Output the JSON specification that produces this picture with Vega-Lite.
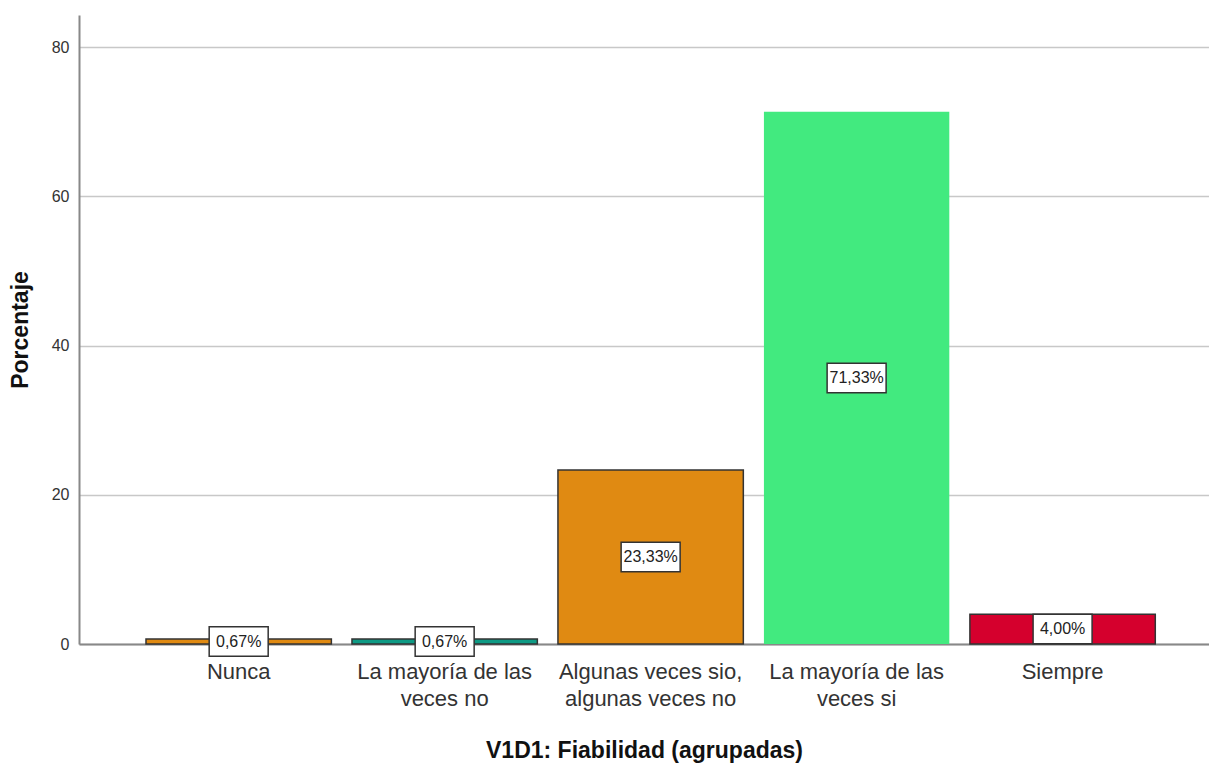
{
  "$schema": "https://vega.github.io/schema/vega-lite/v6.json",
  "width": 1130,
  "height": 629,
  "autosize": {"type": "none"},
  "padding": {"left": 79, "top": 15, "right": 0, "bottom": 123},
  "background": "white",
  "config": {
    "view": {"stroke": null},
    "font": "Liberation Sans"
  },
  "data": {
    "values": [
      {"cat": "Nunca", "pct": 0.67, "label": "0,67%"},
      {"cat": "La mayoría de las veces no", "pct": 0.67, "label": "0,67%"},
      {"cat": "Algunas veces sio, algunas veces no", "pct": 23.33, "label": "23,33%"},
      {"cat": "La mayoría de las veces si", "pct": 71.33, "label": "71,33%"},
      {"cat": "Siempre", "pct": 4.0, "label": "4,00%"}
    ]
  },
  "encoding": {
    "x": {
      "field": "cat",
      "type": "nominal",
      "sort": null,
      "scale": {"paddingInner": 0.1, "paddingOuter": 0.293, "align": 0.555},
      "axis": {
        "title": "V1D1: Fiabilidad (agrupadas)",
        "titleFont": "Liberation Sans",
        "titleFontSize": 23,
        "titleFontWeight": "bold",
        "titleColor": "#111",
        "titlePadding": 30,
        "labelAngle": 0,
        "labelFont": "Liberation Sans",
        "labelFontSize": 22,
        "labelColor": "#333",
        "labelPadding": 17,
        "labelLineHeight": 27,
        "labelLimit": 0,
        "labelOverlap": false,
        "labelExpr": "datum.value == 'La mayoría de las veces no' ? ['La mayoría de las', 'veces no'] : datum.value == 'Algunas veces sio, algunas veces no' ? ['Algunas veces sio,', 'algunas veces no'] : datum.value == 'La mayoría de las veces si' ? ['La mayoría de las', 'veces si'] : datum.value",
        "ticks": false,
        "domainColor": "#888",
        "domainWidth": 2,
        "grid": false
      }
    }
  },
  "layer": [
    {
      "mark": {"type": "bar", "stroke": "#333", "strokeWidth": 1.5},
      "encoding": {
        "y": {
          "field": "pct",
          "type": "quantitative",
          "scale": {"domain": [0, 84.3], "nice": false},
          "axis": {
            "title": "Porcentaje",
            "titleFont": "Liberation Sans",
            "titleFontSize": 23,
            "titleFontWeight": "bold",
            "titleColor": "#111",
            "titlePadding": 19,
            "values": [0, 20, 40, 60, 80],
            "labelFont": "Liberation Sans",
            "labelFontSize": 16,
            "labelColor": "#333",
            "labelPadding": 10,
            "ticks": false,
            "domainColor": "#888",
            "domainWidth": 2,
            "grid": true,
            "gridColor": "#c8c8c8",
            "gridWidth": 1.5
          }
        },
        "color": {
          "field": "cat",
          "type": "nominal",
          "sort": null,
          "legend": null,
          "scale": {
            "domain": ["Nunca", "La mayoría de las veces no", "Algunas veces sio, algunas veces no", "La mayoría de las veces si", "Siempre"],
            "range": ["#E08A12", "#0E9A84", "#E08A12", "#42EA7F", "#D5002D"]
          }
        },
        "strokeOpacity": {
          "condition": {"test": "datum.cat == 'La mayoría de las veces si'", "value": 0},
          "value": 1
        }
      }
    },
    {
      "transform": [{"calculate": "datum.pct / 2", "as": "mid"}],
      "mark": {"type": "point", "shape": "M-1,-0.5H1V0.5H-1Z", "filled": true, "fill": "white", "stroke": "#333", "strokeWidth": 1.5, "opacity": 1, "size": 3481},
      "encoding": {
        "y": {"field": "mid", "type": "quantitative"}
      }
    },
    {
      "transform": [{"calculate": "datum.pct / 2", "as": "mid"}],
      "mark": {"type": "text", "font": "Liberation Sans", "fontSize": 16, "color": "#222", "baseline": "middle", "align": "center"},
      "encoding": {
        "y": {"field": "mid", "type": "quantitative"},
        "text": {"field": "label"}
      }
    }
  ]
}
